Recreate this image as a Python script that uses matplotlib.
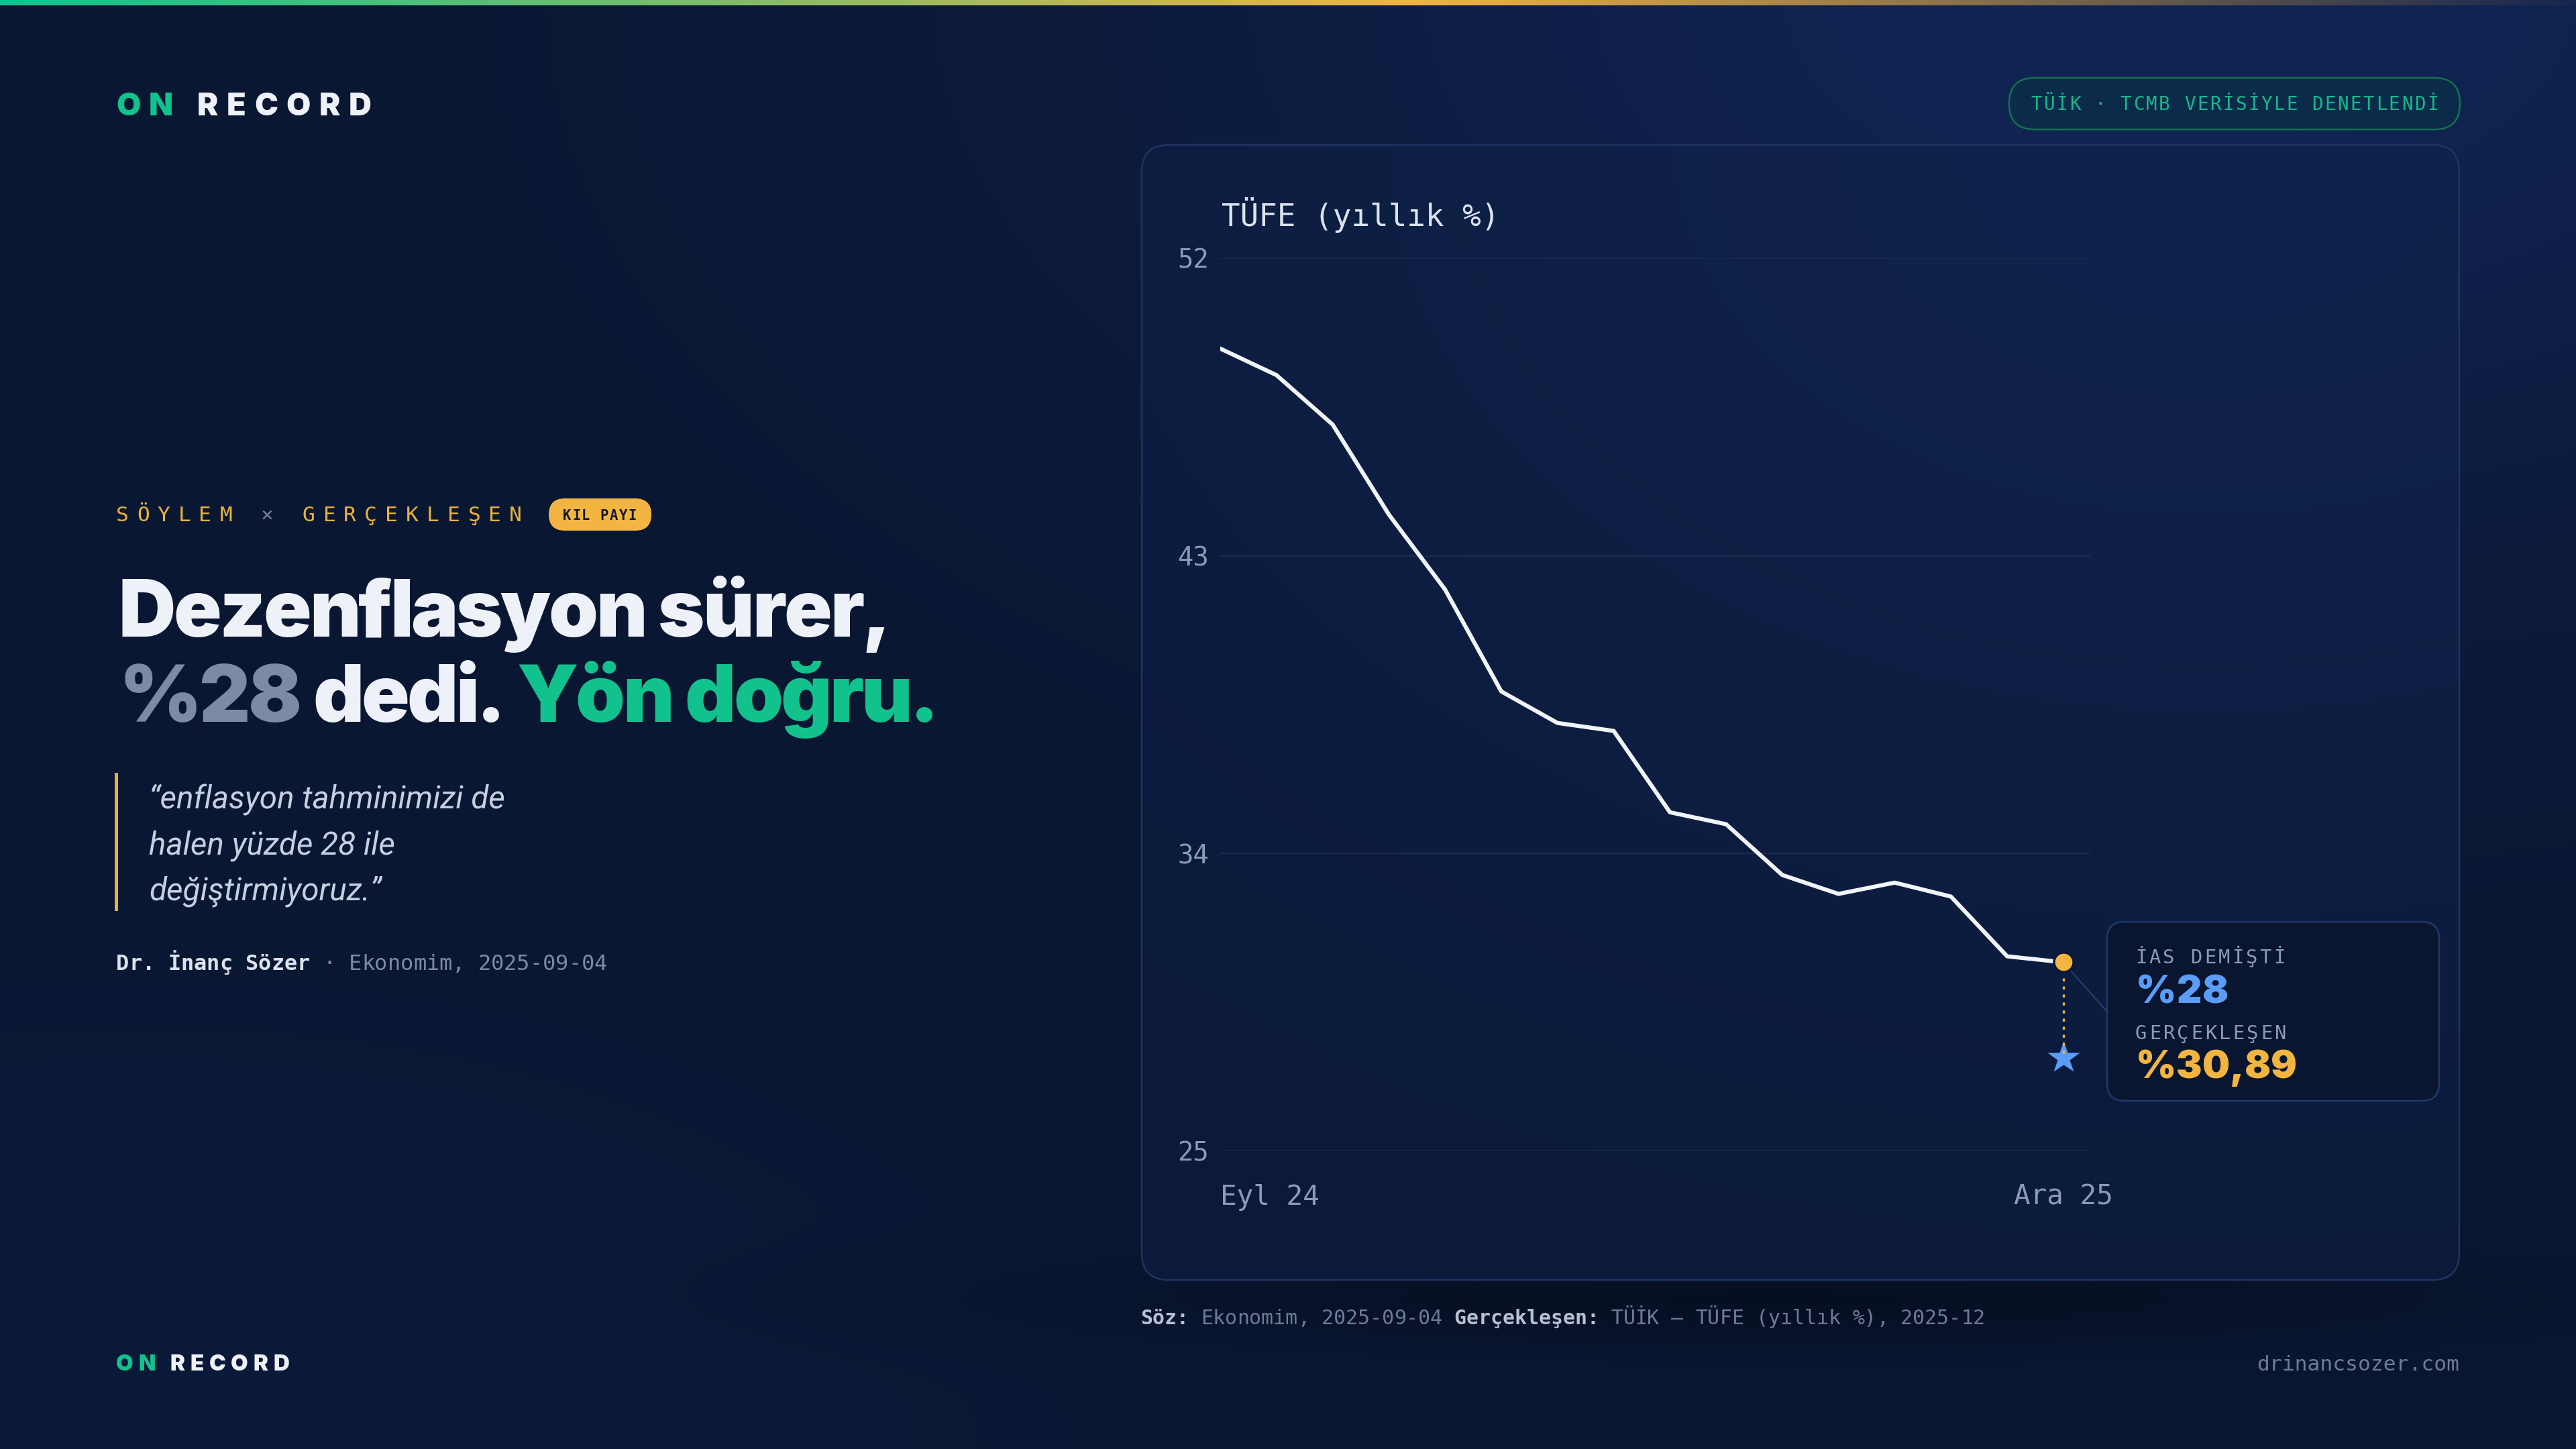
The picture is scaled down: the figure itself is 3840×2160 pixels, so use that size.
import numpy as np
import matplotlib
matplotlib.use("Agg")
import matplotlib.pyplot as plt
import matplotlib.font_manager as fm
from matplotlib.patches import FancyBboxPatch, Rectangle, ConnectionPatch
from matplotlib.transforms import blended_transform_factory

try:
    from matplotlib.ft2font import LoadFlags
    NO_HINT = LoadFlags.NO_HINTING
except ImportError:
    NO_HINT = 2

# --- data: TÜFE yıllık %, Eylül 2024 - Aralık 2025
months = ["Eyl 24", "Eki 24", "Kas 24", "Ara 24", "Oca 25", "Şub 25", "Mar 25", "Nis 25",
          "May 25", "Haz 25", "Tem 25", "Ağu 25", "Eyl 25", "Eki 25", "Kas 25", "Ara 25"]
tufe = [49.38, 48.58, 47.09, 44.38, 42.12, 39.05, 38.10, 37.86,
        35.41, 35.05, 33.52, 32.95, 33.29, 32.87, 31.07, 30.89]
claim = 28.0
y_lo, y_hi = 25.2, 52.1

# colours
NAVY = '#0a1732'
WHITE = '#eef2f8'
GRAY = '#7b8aa5'
GREEN = '#12c28d'
YELLOW = '#f2b542'
BLUE = '#5b9cf6'
TICK = '#8c9ab4'

SANS = ['Inter', 'DejaVu Sans']
MONO = ['DejaVu Sans Mono']
ITAL = ['Roboto', 'DejaVu Sans']
plt.rcParams['font.family'] = MONO

W, H, DPI = 3840, 2160, 100
fig = plt.figure(figsize=(W / DPI, H / DPI), dpi=DPI)
fig.patch.set_facecolor(NAVY)
bg = fig.add_axes([0, 0, 1, 1])
bg.set_autoscale_on(False)
bg.set_xlim(0, W)
bg.set_ylim(H, 0)
bg.axis('off')


def rgb(h):
    return np.array([int(h[i:i + 2], 16) for i in (1, 3, 5)]) / 255


def glow(xx, yy, cx, cy, sx, sy):
    return np.exp(-(((xx - cx) / sx) ** 2 + ((yy - cy) / sy) ** 2))[..., None]


# background
ys, xs = np.mgrid[0:H:8, 0:W:8] + 4.0
img = np.ones(xs.shape + (3,)) * rgb(NAVY)
g = glow(xs, ys, 3250, 0, 1500, 800)
img = img * (1 - g) + rgb('#112554') * g
g = glow(xs, ys, 200, 2160, 1200, 600) * 0.6
img = img * (1 - g) + rgb('#0c1c3f') * g
g = glow(xs, ys, 2650, 1935, 1000, 70) * 0.6
img = img * (1 - g) + rgb('#040a18') * g
bg.imshow(img, extent=(0, W, H, 0), interpolation='bilinear', aspect='auto', zorder=0)

# top gradient bar
stops = [0.0, 0.55, 1.0]
cols = [rgb('#0cc58f'), rgb('#f0b445'), rgb('#16264f')]
t = np.linspace(0, 1, 800)
bar = np.stack([np.interp(t, stops, [c[k] for c in cols]) for k in range(3)], axis=-1)[None]
bg.imshow(bar, extent=(0, W, 8, 0), aspect='auto', zorder=1)

# chart panel
panel = FancyBboxPatch((1702, 216), 1964, 1692, boxstyle="round,pad=0,rounding_size=40",
                       fc='none', ec='#203461', lw=1.8, zorder=3)
bg.add_patch(panel)
pys, pxs = np.mgrid[216:1908:8, 1702:3666:8] + 4.0
pimg = np.ones(pxs.shape + (3,)) * rgb('#0b1a3a')
g = glow(pxs, pys, 3300, 216, 1600, 1100)
pimg = pimg * (1 - g) + rgb('#10234c') * g
im = bg.imshow(pimg, extent=(1702, 3666, 1908, 216), interpolation='bilinear', aspect='auto', zorder=2)
im.set_clip_path(panel)

# pills and boxes
bg.add_patch(FancyBboxPatch((2995, 116), 672, 77, boxstyle="round,pad=0,rounding_size=38",
                            fc='#0c2b4a', ec='#13704f', lw=1.8, zorder=3))
bg.add_patch(FancyBboxPatch((818, 743), 153, 48, boxstyle="round,pad=0,rounding_size=24",
                            fc=YELLOW, ec='none', zorder=3))
bg.add_patch(Rectangle((171, 1152), 5, 206, fc='#e6b03f', ec='none', zorder=3))
bg.add_patch(FancyBboxPatch((3141, 1374), 495, 267, boxstyle="round,pad=0,rounding_size=26",
                            fc='#0a1630', ec='#22386a', lw=1.8, zorder=3))


def advances(s, fp):
    font = fm.get_font(fm.findfont(fp))
    font.set_size(fp.get_size_in_points(), DPI)
    return [font.load_char(ord(c), flags=NO_HINT).linearHoriAdvance / 65536 for c in s]


def runs_text(x, y, runs, fp, track=0.0, ha='left', fit=None, zorder=5):
    chars = [(c, col) for txt, col in runs for c in txt]
    adv = advances(''.join(c for c, _ in chars), fp)
    if fit is not None:
        track = (fit - sum(adv)) / (len(chars) - 1)
    total = sum(adv) + track * (len(chars) - 1)
    pen = x - {'left': 0, 'center': total / 2, 'right': total}[ha]
    for (c, col), a in zip(chars, adv):
        if c != ' ':
            bg.text(pen, y, c, fontproperties=fp, color=col, ha='left', va='baseline', zorder=zorder)
        pen += a + track


def fp(family, size, weight='normal', style='normal'):
    return fm.FontProperties(family=family, size=size, weight=weight, style=style)


# brand
runs_text(173, 172, [("ON", GREEN), (" RECORD", WHITE)], fp(SANS, 33.7, 900), fit=381)
runs_text(173, 2043, [("ON", GREEN), (" RECORD", WHITE)], fp(SANS, 23.8, 900), fit=258)
bg.text(3666, 2043, "drinancsozer.com", fontproperties=fp(MONO, 22.5), color='#6d7d99',
        ha='right', va='baseline', zorder=5)

# kicker
runs_text(173, 777, [("SÖYLEM ", '#e8b23c'), ("×", '#6d7b96'), (" GERÇEKLEŞEN", '#e8b23c')],
          fp(MONO, 22.5), fit=605)
runs_text(894, 775, [("KIL PAYI", '#141a2a')], fp(MONO, 14.8, 'bold'), track=1.6, ha='center')

# headline
hfp = fp(SANS, 85, 900)
runs_text(176, 949, [("Dezenflasyon sürer,", WHITE)], hfp, fit=1153)
runs_text(178, 1076, [("%28", GRAY), (" dedi.", WHITE), (" Yön doğru.", GREEN)], hfp, fit=1222)

# quote
quote = ["“enflasyon tahminimizi de", "halen yüzde 28 ile", "değiştirmiyoruz.”"]
qfp = fp(ITAL, 32, 'normal', 'italic')
qfp.set_size(32 * 531 / sum(advances(quote[0], qfp)))
for i, line in enumerate(quote):
    bg.text(222, 1205 + 68 * i, line, fontproperties=qfp, color='#c5cfe0', ha='left',
            va='baseline', zorder=5)

# attribution
afp = fp(MONO, 23)
runs_text(173, 1446, [("Dr. İnanç Sözer", '#dce3ee')], fp(MONO, 23, 'bold'))
runs_text(173 + sum(advances("Dr. İnanç Sözer", afp)), 1446,
          [(" · Ekonomim, 2025-09-04", GRAY)], afp)

# badge
runs_text(3331, 164, [("TÜİK · TCMB VERİSİYLE DENETLENDİ", '#14b888')], fp(MONO, 19.8),
          ha='center', fit=607)

# chart title
bg.text(1821, 337, "TÜFE (yıllık %)", fontproperties=fp(MONO, 33), color='#dce3ee',
        ha='left', va='baseline', zorder=5)

# chart
ax = fig.add_axes([1819 / W, 1 - 1716 / H, (3116 - 1819) / W, (1716 - 385) / H])
ax.set_zorder(2)
ax.patch.set_visible(False)
x = np.arange(len(tufe))
ax.plot(x, tufe, color='#f1f4f9', lw=4.4, solid_joinstyle='round', solid_capstyle='round', zorder=3)
ax.plot([x[-1], x[-1]], [tufe[-1], claim], color=YELLOW, lw=2.4, dashes=(1.3, 2.3), zorder=5)
ax.plot(x[-1], claim, marker='*', ms=36, color=BLUE, mec='none', zorder=4, clip_on=False)
ax.plot(x[-1], tufe[-1], 'o', ms=21, mfc=YELLOW, mec='#0b1833', mew=2.5, zorder=6, clip_on=False)
ax.set_xlim(0, 15.48)
ax.set_ylim(y_lo, y_hi)
ticks = np.linspace(y_lo, y_hi, 4)
ax.set_yticks(ticks, [f"{v:.0f}" for v in ticks])
ax.set_xticks([])
ax.tick_params(length=0, pad=12, labelsize=28, labelcolor=TICK)
ax.grid(axis='y', color='#1d2d50', lw=1.3)
ax.set_axisbelow(True)
for s in ax.spines.values():
    s.set_visible(False)

blend = blended_transform_factory(ax.transData, bg.transData)
xfp = fp(MONO, 29.5)
bg.text(x[0], 1796, months[0], transform=blend, fontproperties=xfp, color=TICK,
        ha='left', va='baseline', zorder=5)
bg.text(x[-1], 1796, months[-1], transform=blend, fontproperties=xfp, color=TICK,
        ha='center', va='baseline', zorder=5)

# callout
con = ConnectionPatch(xyA=(x[-1], tufe[-1]), coordsA=ax.transData, xyB=(3141, 1508),
                      coordsB=bg.transData, color='#22406f', lw=1.5, shrinkA=11, shrinkB=0)
con.set_zorder(1)
fig.add_artist(con)
runs_text(3183, 1436, [("İAS DEMİŞTİ", TICK)], fp(MONO, 20.7), fit=223)
runs_text(3184, 1495, [("%" + f"{claim:.0f}", BLUE)], fp(SANS, 41.6, 900), fit=138)
runs_text(3183, 1549, [("GERÇEKLEŞEN", TICK)], fp(MONO, 20.7), fit=225)
runs_text(3184, 1608, [("%" + f"{tufe[-1]:.2f}".replace('.', ','), YELLOW)],
          fp(SANS, 41.6, 900), fit=240)

# source line
sfp = fp(MONO, 21.5)
sbf = fp(MONO, 21.5, 'bold')
src = [("Söz:", sbf, '#b6c1d4'), (" Ekonomim, 2025-09-04 ", sfp, '#6c7b97'),
       ("Gerçekleşen:", sbf, '#b6c1d4'), (" TÜİK — TÜFE (yıllık %), 2025-12", sfp, '#6c7b97')]
px = 1700
for txt, f, col in src:
    runs_text(px, 1974, [(txt, col)], f)
    px += sum(advances(txt, f))

bg.set_xlim(0, W)
bg.set_ylim(H, 0)
fig.savefig('out.png', dpi=DPI, facecolor=NAVY)
